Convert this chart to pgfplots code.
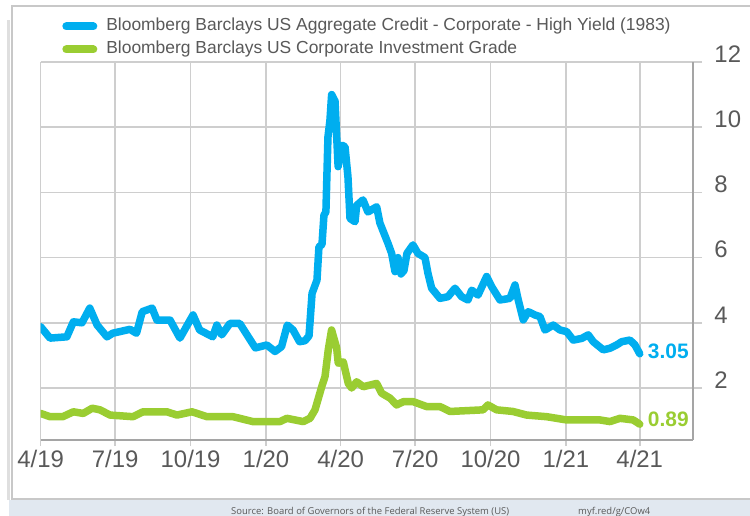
\documentclass[border=0pt]{standalone}
\usepackage{fontspec}
\setmainfont{Liberation Sans}
\newfontfamily\srcfont{Open Sans}
\usepackage{pgfplots}
\usepackage{pgfplotstable}
\pgfplotsset{compat=1.18}
\definecolor{hyblue}{RGB}{0,174,239}
\definecolor{iggreen}{RGB}{154,205,50}
\definecolor{gridc}{RGB}{206,206,206}
\definecolor{axc}{RGB}{165,165,165}
\definecolor{txt}{RGB}{89,89,89}
\definecolor{band}{RGB}{225,232,240}
\definecolor{framec}{RGB}{200,200,200}

\pgfplotstableread{
d v
0 3.88
11.5 3.53
32 3.57
40 4.03
50.5 4.00
60 4.45
69 3.93
81 3.57
88 3.68
109 3.80
117 3.68
124 4.34
136 4.45
142 4.08
158 4.08
170 3.53
186 4.24
194 3.78
210 3.57
215 3.93
221 3.63
231 3.98
243 3.98
262 3.23
276 3.32
286 3.12
294 3.27
301 3.93
308 3.78
316 3.42
322.6 3.45
327.5 3.60
331.2 4.90
337.2 5.31
339.6 6.33
343.3 6.40
345.7 7.30
348.1 7.40
350.6 9.70
353 10.2
355.1 11.00
359.2 10.80
363 8.79
367.3 9.45
371.4 9.40
375 8.48
377.5 7.20
383.6 7.10
385.6 7.60
393.3 7.77
399.4 7.40
410 7.56
414 7.06
423.8 6.44
428.3 6.13
432.4 5.57
436 6.00
439.7 5.50
443.3 5.60
447 6.13
454.3 6.39
460.4 6.13
469 6.00
472.6 5.52
477.1 5.06
487.3 4.75
497 4.80
505.6 5.06
513.7 4.80
521.4 4.70
526 5.00
533.7 4.85
544.2 5.42
550.3 5.11
560.5 4.70
572.7 4.75
578.8 5.16
582.8 4.70
588.9 4.09
595 4.34
603.2 4.24
609.3 4.19
615.4 3.78
625.5 3.93
633.7 3.78
641.8 3.73
649.9 3.47
660.1 3.52
668.2 3.63
674.3 3.42
686.5 3.17
694.7 3.22
702.8 3.32
709 3.42
719.1 3.47
725.2 3.32
731 3.05
}\hydata

\pgfplotstableread{
d v
0 1.22
11.5 1.12
27 1.12
40 1.27
52 1.22
63 1.38
72.5 1.33
84.7 1.17
112.7 1.12
125 1.27
154 1.27
166.4 1.17
184.7 1.27
203 1.12
234.7 1.12
259 0.97
292 0.97
300.6 1.07
304.3 1.05
320.5 0.97
328.7 1.07
334.8 1.33
343 2.04
347 2.35
351 3.17
355 3.78
361.2 3.23
363.2 2.76
369.3 2.80
375.4 2.14
379.5 2.00
385.6 2.19
393.7 2.04
410 2.14
416.1 1.84
426.3 1.69
434.4 1.48
442.5 1.58
454.7 1.58
471 1.43
487.3 1.43
499.5 1.28
539.7 1.33
545.8 1.48
556.4 1.33
576.3 1.28
593 1.17
617.4 1.12
641.8 1.02
682.5 1.02
694.7 0.97
706.9 1.07
723.1 1.02
731 0.89
}\igdata

\begin{document}
\begin{tikzpicture}
\useasboundingbox (0,0) rectangle (750bp,516bp);
\fill[band] (9bp,0) rectangle (750bp,16bp);
\draw[gray!25, line width=2.5bp] (8.5bp,16bp) -- (8.5bp,496bp);
\fill[white] (12bp,17bp) rectangle (760bp,510bp);
\draw[framec, line width=1.5bp] (760bp,17bp) -- (12bp,17bp) -- (12bp,510bp) -- (760bp,510bp);
\begin{axis}[
  scale only axis, width=652.4bp, height=378bp,
  at={(40.6bp,76bp)}, anchor=south west,
  xmin=0, xmax=796, ymin=0.405, ymax=12,
  axis x line*=bottom, axis y line*=right,
  axis line style={axc, line width=2bp},
  xtick={0,91,183,275,366,457,549,641,731},
  xticklabels={4/19,7/19,10/19,1/20,4/20,7/20,10/20,1/21,4/21},
  ytick={2,4,6,8,10,12},
  grid=major, grid style={gridc, line width=1.6bp},
  tick align=outside,
  xtick style={gridc, line width=1.6bp, /pgfplots/major tick length=6bp},
  ytick style={gridc, line width=1.6bp, /pgfplots/major tick length=9bp},
  tick label style={font=\fontsize{24}{28}\selectfont, text=txt},
  /pgf/number format/assume math mode=true,
  xticklabel style={anchor=north, inner sep=0pt, yshift=-6bp},
  yticklabel style={anchor=west, inner sep=0pt, xshift=17bp, yshift=8bp},
  legend style={at={(0.033,1.117)}, anchor=north west, draw=none, fill=none,
    font=\fontsize{17.5}{20}\selectfont, text=txt, inner sep=0pt, row sep=6bp,
    nodes={inner sep=0pt, text height=13bp, text depth=4bp},
    /tikz/every odd column/.append style={column sep=9bp}},
  legend cell align=left,
  legend image code/.code={\draw[#1, line width=8bp, line cap=round] (4bp,0) -- (31bp,0);},
]
\addplot[hyblue, line width=7.5bp, line cap=round, line join=round] table[x=d, y=v] {\hydata};
\addlegendentry{Bloomberg Barclays US Aggregate Credit - Corporate - High Yield (1983)}
\addplot[iggreen, line width=7.5bp, line cap=round, line join=round] table[x=d, y=v] {\igdata};
\addlegendentry{Bloomberg Barclays US Corporate Investment Grade}
\node[anchor=west, text=hyblue, font=\bfseries\fontsize{21}{24}\selectfont, inner sep=0pt, xshift=8bp, yshift=2.6bp] at (axis cs:731,3.05) {3.05};
\node[anchor=west, text=iggreen, font=\bfseries\fontsize{21}{24}\selectfont, inner sep=0pt, xshift=8bp, yshift=5bp] at (axis cs:731,0.89) {0.89};
\end{axis}
\node[font=\srcfont\fontsize{9.5}{11}\selectfont, text=txt, anchor=base west, inner sep=0pt] at (231bp,2bp) {Source: Board of Governors of the Federal Reserve System (US)};
\node[font=\srcfont\fontsize{9.5}{11}\selectfont, text=txt, anchor=base west, inner sep=0pt] at (578bp,2bp) {myf.red/g/COw4};
\end{tikzpicture}
\end{document}
